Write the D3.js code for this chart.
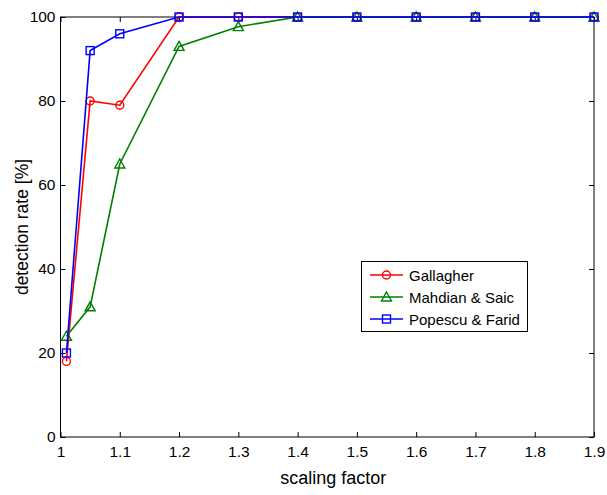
<!DOCTYPE html>
<html><head><meta charset="utf-8">
<script src="https://cdn.jsdelivr.net/npm/d3@7"></script>
<style>body{margin:0;background:#fff;}svg{display:block;font-family:"Liberation Sans",Arial,sans-serif;}</style>
</head><body>
<script>
const scalingFactors = [1.01, 1.05, 1.1, 1.2, 1.3, 1.4, 1.5, 1.6, 1.7, 1.8, 1.9];
const gallagher = [18, 80, 79, 100, 100, 100, 100, 100, 100, 100, 100];
const mahdian = [24, 31, 65, 93, 97.7, 100, 100, 100, 100, 100, 100];
const popescu = [20, 92, 96, 100, 100, 100, 100, 100, 100, 100, 100];
const seriesNames = ["Gallagher", "Mahdian & Saic", "Popescu & Farid"];
const xTicks = [1, 1.1, 1.2, 1.3, 1.4, 1.5, 1.6, 1.7, 1.8, 1.9];
const yTicks = [0, 20, 40, 60, 80, 100];

const W = 607, H = 495;
const svg = d3.select("body").append("svg").attr("width", W).attr("height", H);
const L = 60.5, R = 594, T = 17, B = 437;
const x = d3.scaleLinear().domain([1, 1.9]).range([L, R]);
const y = d3.scaleLinear().domain([0, 100]).range([B, T]);

const series = [
  {name: seriesNames[0], values: gallagher, color: "#ff0000", marker: "circle"},
  {name: seriesNames[1], values: mahdian, color: "#008000", marker: "triangle"},
  {name: seriesNames[2], values: popescu, color: "#0000ff", marker: "square"}
];

function drawMarker(g, type, cx, cy, color) {
  if (type === "circle") {
    g.append("circle").attr("cx", cx).attr("cy", cy).attr("r", 4)
      .attr("fill", "none").attr("stroke", color).attr("stroke-width", 1.4);
  } else if (type === "square") {
    g.append("rect").attr("x", cx - 4).attr("y", cy - 4).attr("width", 8).attr("height", 8)
      .attr("fill", "none").attr("stroke", color).attr("stroke-width", 1.4);
  } else {
    g.append("path").attr("d", `M${cx},${cy - 5}L${cx + 5},${cy + 4}L${cx - 5},${cy + 4}Z`)
      .attr("fill", "none").attr("stroke", color).attr("stroke-width", 1.4);
  }
}

// axes (inward ticks)
const tl = 5;
const xAxisB = d3.axisBottom(x).tickValues(xTicks).tickSize(-tl).tickPadding(9).tickFormat(d3.format("~g"));
const yAxisL = d3.axisLeft(y).tickValues(yTicks).tickSize(-tl).tickPadding(5).tickFormat(d3.format("d"));
const gx = svg.append("g").attr("transform", `translate(0,${B})`).call(xAxisB);
const gy = svg.append("g").attr("transform", `translate(${L},0)`).call(yAxisL);
const gxt = svg.append("g").attr("transform", `translate(0,${T})`).call(d3.axisTop(x).tickValues(xTicks).tickSize(-tl).tickFormat(""));
const gyr = svg.append("g").attr("transform", `translate(${R},0)`).call(d3.axisRight(y).tickValues(yTicks).tickSize(-tl).tickFormat(""));
[gx, gy, gxt, gyr].forEach(g => {
  g.select(".domain").remove();
  g.selectAll("line").attr("stroke", "#000");
  g.selectAll("text").attr("fill", "#000").style("font-size", "15.5px");
});
svg.append("rect").attr("x", L).attr("y", T).attr("width", R - L).attr("height", B - T)
  .attr("fill", "none").attr("stroke", "#000").attr("stroke-width", 1);

// lines
const line = d3.line().x((d, i) => x(scalingFactors[i])).y(d => y(d));
series.forEach(s => {
  const g = svg.append("g");
  g.append("path").datum(s.values).attr("d", line).attr("fill", "none")
    .attr("stroke", s.color).attr("stroke-width", 1.6);
  s.values.forEach((v, i) => drawMarker(g, s.marker, x(scalingFactors[i]), y(v), s.color));
});

// labels
svg.append("text").attr("x", (L + R) / 2 + 6).attr("y", 484).attr("text-anchor", "middle")
  .style("font-size", "18px").text("scaling factor");
svg.append("text").attr("transform", `translate(28,${(T + B) / 2}) rotate(-90)`).attr("text-anchor", "middle")
  .style("font-size", "17.5px").text("detection rate [%]");

// legend
const lg = svg.append("g");
lg.append("rect").attr("x", 361.5).attr("y", 261.5).attr("width", 166).attr("height", 70)
  .attr("fill", "#fff").attr("stroke", "#000").attr("stroke-width", 1);
series.forEach((s, i) => {
  const yy = 275 + i * 22;
  lg.append("line").attr("x1", 370).attr("x2", 403).attr("y1", yy).attr("y2", yy)
    .attr("stroke", s.color).attr("stroke-width", 1.5);
  drawMarker(lg, s.marker, 386.5, yy, s.color);
  lg.append("text").attr("x", 409).attr("y", yy + 5.5).style("font-size", "15px").text(s.name);
});
</script>
</body></html>
